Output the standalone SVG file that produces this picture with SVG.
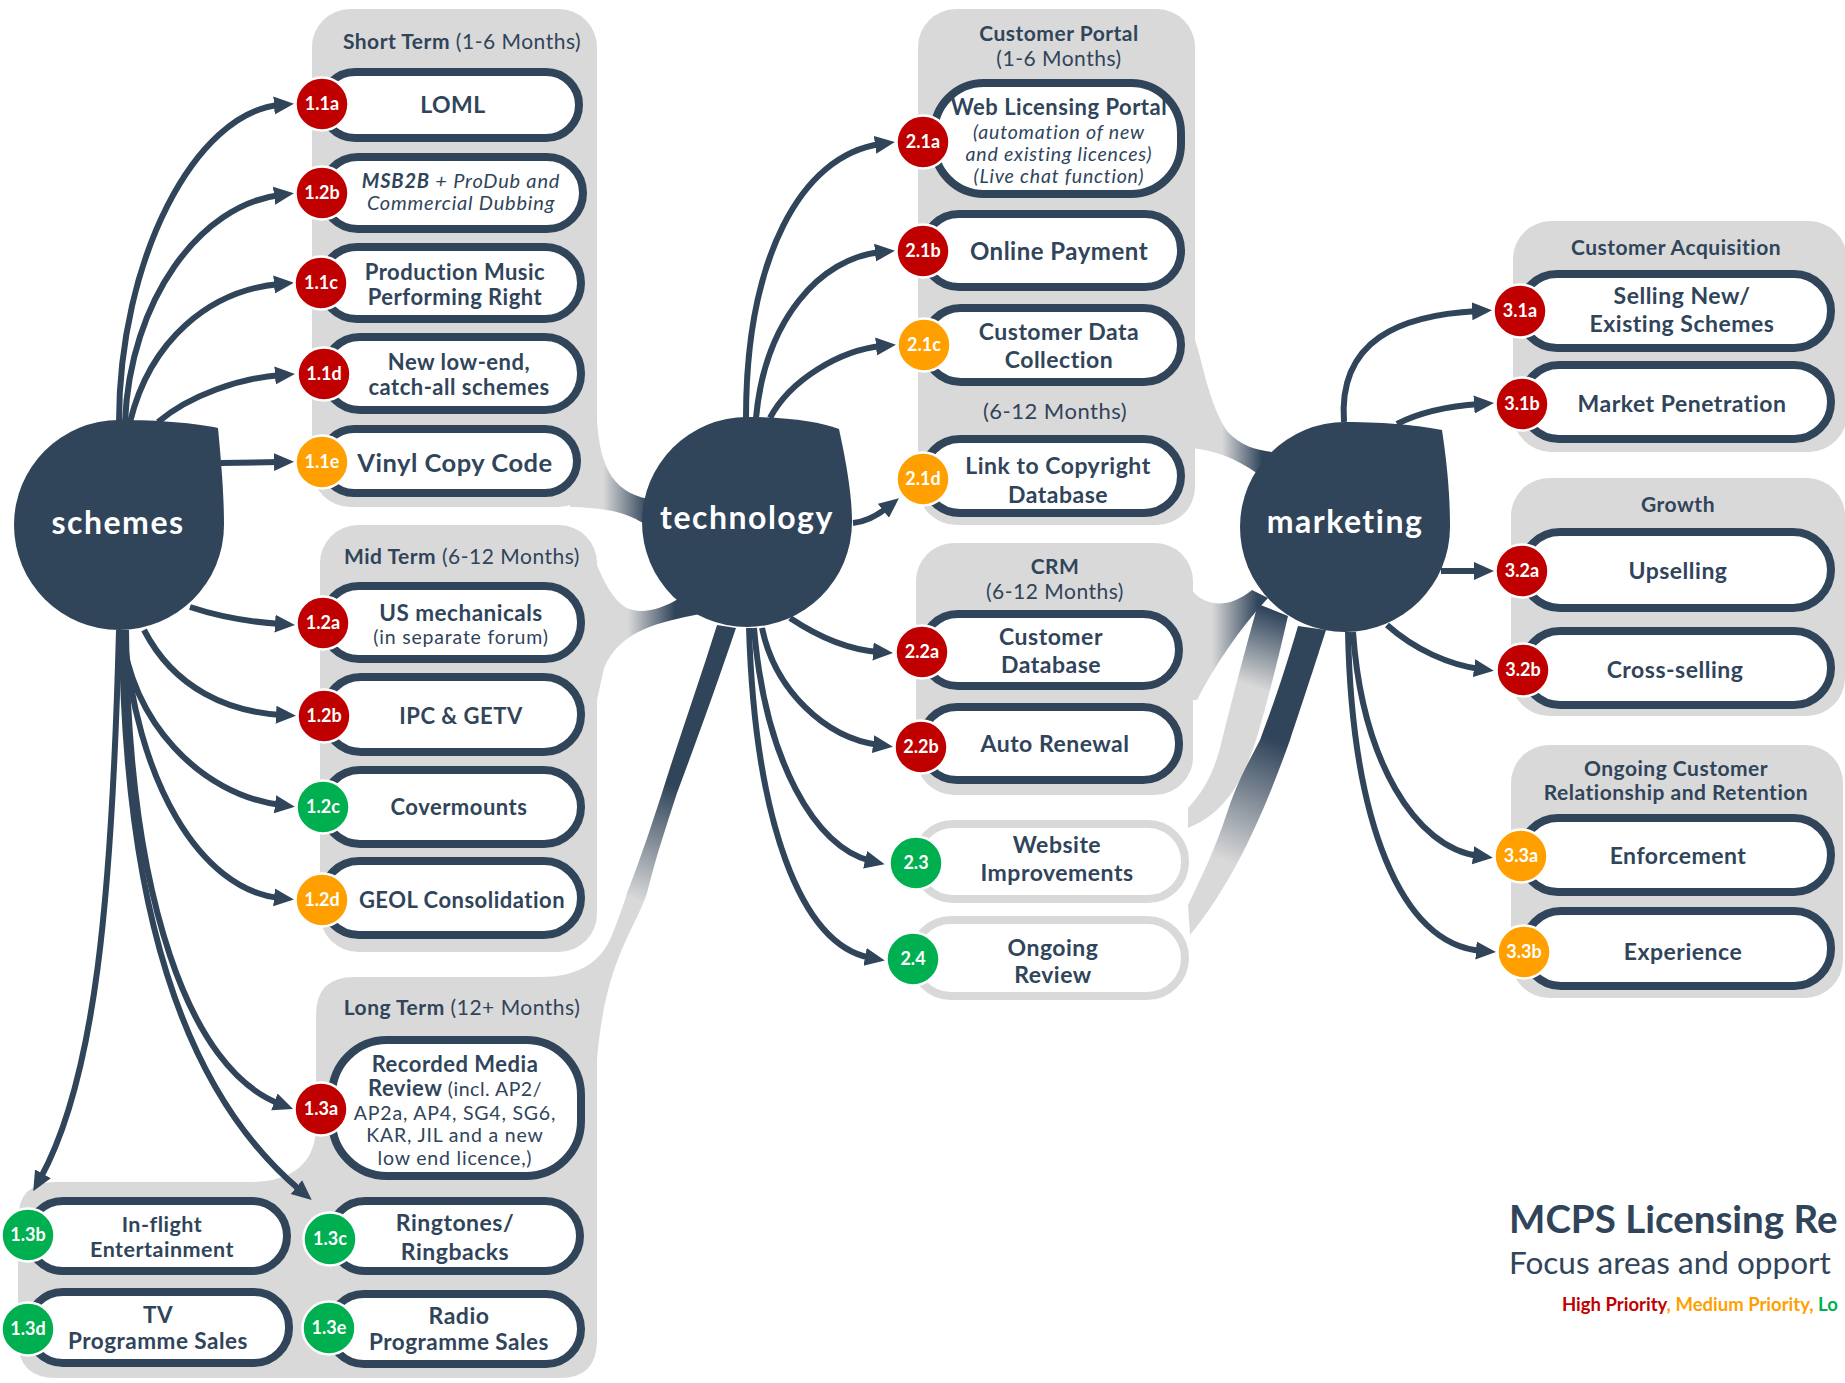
<svg xmlns="http://www.w3.org/2000/svg" width="1845" height="1383" viewBox="0 0 1845 1383">
  <style>
    text { font-family: Lato, "Liberation Sans", sans-serif; }
    .pnl { fill: #d9d9d9; }
    .hubs { fill: #30445a; }
    .hub { fill: #fff; font-size: 32px; font-weight: 700; text-anchor: middle; letter-spacing: 1.5px; }
    .box { fill: #fff; stroke: #30445a; stroke-width: 8; }
    .boxg { fill: #fff; stroke: #d9d9d9; stroke-width: 8; }
    .bdg { stroke: #fff; stroke-width: 2.5; }
    .red { fill: #c00000; }
    .org { fill: #ff9f00; }
    .grn { fill: #00b050; }
    .bn { fill: #fff; font-size: 18px; font-weight: 700; text-anchor: middle; }
    .lbl { fill: #30445a; font-size: 23px; font-weight: 700; text-anchor: middle; letter-spacing: 0.5px; }
    .d { fill: #30445a; font-size: 19.5px; font-weight: 400; text-anchor: middle; letter-spacing: 0.8px; }
    .it { font-style: italic; }
    .ttl { fill: #30445a; font-size: 21px; font-weight: 700; text-anchor: middle; letter-spacing: 0.5px; }
    .reg { font-weight: 400; }
    .conn path { fill: none; stroke: #30445a; stroke-width: 6; marker-end: url(#ah); }
  </style>
  <defs>
    <marker id="ah" viewBox="0 0 20 20" refX="6" refY="10" markerWidth="20" markerHeight="20" markerUnits="userSpaceOnUse" orient="auto">
      <path d="M0,1 L20,10 L0,19 Z" fill="#30445a"/>
    </marker>
    <linearGradient id="gS" gradientUnits="userSpaceOnUse" x1="603" y1="0" x2="648" y2="0">
      <stop offset="0" stop-color="#d9d9d9"/><stop offset="1" stop-color="#30445a"/>
    </linearGradient>
    <linearGradient id="gM" gradientUnits="userSpaceOnUse" x1="628" y1="0" x2="675" y2="0">
      <stop offset="0" stop-color="#d9d9d9"/><stop offset="1" stop-color="#30445a"/>
    </linearGradient>
    <linearGradient id="gL" gradientUnits="userSpaceOnUse" x1="727" y1="630" x2="620" y2="910">
      <stop offset="0" stop-color="#30445a"/><stop offset="0.55" stop-color="#30445a"/><stop offset="0.95" stop-color="#d9d9d9"/>
    </linearGradient>
    <linearGradient id="gP" gradientUnits="userSpaceOnUse" x1="1222" y1="0" x2="1262" y2="0">
      <stop offset="0" stop-color="#d9d9d9"/><stop offset="1" stop-color="#30445a"/>
    </linearGradient>
    <linearGradient id="gC" gradientUnits="userSpaceOnUse" x1="1212" y1="0" x2="1258" y2="0">
      <stop offset="0" stop-color="#d9d9d9"/><stop offset="1" stop-color="#30445a"/>
    </linearGradient>
    <linearGradient id="gW" gradientUnits="userSpaceOnUse" x1="1275" y1="612" x2="1225" y2="760">
      <stop offset="0" stop-color="#30445a"/><stop offset="0.5" stop-color="#d9d9d9"/>
    </linearGradient>
    <linearGradient id="gO" gradientUnits="userSpaceOnUse" x1="1312" y1="630" x2="1205" y2="900">
      <stop offset="0" stop-color="#30445a"/><stop offset="0.4" stop-color="#30445a"/><stop offset="0.85" stop-color="#d9d9d9"/>
    </linearGradient>
  </defs>

  <!-- grouping panels and the tapered branches that join them to the next hub -->
  <g id="panels">
    <rect class="pnl" x="312" y="9" width="285" height="498" rx="38"/>
    <path fill="url(#gS)" d="M597,420 C600,470 615,495 655,500 L655,532 C635,515 615,508 570,507 L570,420 Z"/>
    <rect class="pnl" x="320" y="525" width="277" height="427" rx="38"/>
    <path fill="url(#gM)" d="M580,545 C597,548 600,590 625,607 C640,615 660,610 680,598 L700,614 C660,622 620,630 604,668 L597,700 L580,700 Z"/>
    <path class="pnl" d="M354,977 L560,977 Q597,977 597,1014 L597,1340 Q597,1378 560,1378 L56,1378 Q18,1378 18,1340 L18,1220 Q18,1182 56,1182 L250,1182 C290,1182 314,1165 316,1130 L316,1015 Q316,977 354,977 Z"/>
    <path fill="url(#gL)" d="M717,625 L736,628 C715,690 695,745 677,793 C665,830 655,860 647,893 C635,930 605,960 597,1060 L560,1060 L540,977 C575,977 600,965 612,935 C620,915 625,900 627,893 C640,860 650,830 662,793 C680,735 700,680 717,625 Z"/>

    <rect class="pnl" x="918" y="9" width="277" height="516" rx="38"/>
    <path fill="url(#gP)" d="M1190,330 C1200,340 1205,400 1228,432 C1240,445 1255,450 1272,452 L1258,474 C1235,458 1215,450 1190,448 Z"/>
    <rect class="pnl" x="916" y="543" width="277" height="252" rx="38"/>
    <path fill="url(#gC)" d="M1185,580 C1198,606 1225,612 1252,590 L1268,598 C1240,628 1215,665 1197,700 L1185,700 Z"/>
    <path fill="url(#gW)" d="M1258,604 L1288,616 C1278,660 1268,700 1256,740 C1240,790 1220,815 1188,828 L1188,808 C1205,790 1215,770 1222,740 C1232,700 1245,650 1258,604 Z"/>
    <path fill="url(#gO)" d="M1298,626 L1326,630 C1310,680 1300,710 1290,740 C1265,810 1235,880 1190,935 L1188,905 C1200,880 1215,850 1228,810 C1240,775 1250,760 1260,740 C1275,700 1285,670 1298,626 Z"/>

    <rect class="pnl" x="1513" y="221" width="334" height="231" rx="38"/>
    <rect class="pnl" x="1511" y="478" width="334" height="238" rx="38"/>
    <rect class="pnl" x="1511" y="745" width="332" height="253" rx="38"/>
  </g>

  <!-- panel headings -->
  <g id="headings">
    <text class="ttl" x="462" y="49">Short Term<tspan class="reg"> (1-6 Months)</tspan></text>
    <text class="ttl" x="462" y="564">Mid Term<tspan class="reg"> (6-12 Months)</tspan></text>
    <text class="ttl" x="462" y="1015">Long Term<tspan class="reg"> (12+ Months)</tspan></text>
    <text class="ttl" x="1059" y="41">Customer Portal</text>
    <text class="ttl reg" x="1059" y="66">(1-6 Months)</text>
    <text class="ttl reg" x="1055" y="419" style="font-size:22px">(6-12 Months)</text>
    <text class="ttl" x="1055" y="574">CRM</text>
    <text class="ttl reg" x="1055" y="599">(6-12 Months)</text>
    <text class="ttl" x="1676" y="255">Customer Acquisition</text>
    <text class="ttl" x="1678" y="512">Growth</text>
    <text class="ttl" x="1676" y="776">Ongoing Customer</text>
    <text class="ttl" x="1676" y="800">Relationship and Retention</text>
  </g>

  <!-- arrows from each hub to its items -->
  <g id="connectors" class="conn">
    <path d="M119,422 C119,260 195,112 280,105"/>
    <path d="M125,422 C130,300 200,205 280,195"/>
    <path d="M130,422 C150,340 210,290 280,284"/>
    <path d="M158,422 C190,395 240,378 281,375"/>
    <path d="M221,463 L280,462"/>
    <path d="M190,607 C220,617 250,622 281,624"/>
    <path d="M144,630 C175,690 230,712 282,715"/>
    <path d="M122,630 C130,720 200,795 281,805"/>
    <path d="M124,630 C135,780 200,890 280,898"/>
    <path d="M126,630 C128,900 190,1070 280,1104"/>
    <path d="M122,630 C124,900 180,1090 301,1191"/>
    <path d="M119,630 C112,900 95,1080 40,1179"/>

    <path d="M746,418 C746,260 800,155 881,144"/>
    <path d="M756,418 C765,320 820,258 881,252"/>
    <path d="M770,418 C790,380 840,350 882,346"/>
    <path d="M853,523 C866,522 878,515 888,507"/>
    <path d="M790,618 C820,638 850,650 879,652"/>
    <path d="M762,628 C775,690 825,738 879,745"/>
    <path d="M754,628 C765,760 815,848 871,861"/>
    <path d="M749,628 C755,820 800,945 871,958"/>

    <path d="M1344,422 C1338,340 1400,315 1478,311"/>
    <path d="M1397,424 C1420,412 1450,406 1480,404"/>
    <path d="M1441,571 L1480,571"/>
    <path d="M1387,625 C1415,650 1450,665 1480,669"/>
    <path d="M1353,632 C1362,760 1415,848 1479,856"/>
    <path d="M1348,632 C1352,820 1400,945 1482,951"/>
  </g>

  <!-- hubs -->
  <g id="hub-schemes">
    <path class="hubs" d="M119,420 C160,420 195,423 218,428 C222,470 224,500 224,525 A105,105 0 1 1 119,420 Z"/>
    <text class="hub" x="118" y="534">schemes</text>
  </g>
  <g id="hub-technology">
    <path class="hubs" d="M747,417 C790,417 820,422 839,429 C848,470 852,500 852,522 A105,105 0 1 1 747,417 Z"/>
    <text class="hub" x="747" y="529">technology</text>
  </g>
  <g id="hub-marketing">
    <path class="hubs" d="M1345,422 C1390,422 1420,426 1442,430 C1448,470 1450,500 1450,527 A105,105 0 1 1 1345,422 Z"/>
    <text class="hub" x="1345" y="533">marketing</text>
  </g>

  <!-- schemes: short term -->
  <g id="n-1-1a">
    <rect class="box" x="322" y="72" width="257" height="66" rx="33"/>
    <circle class="bdg red" cx="322" cy="104" r="26.5"/><text class="bn" x="322" y="110">1.1a</text>
    <text class="lbl" x="453" y="113">LOML</text>
  </g>
  <g id="n-1-2b-short">
    <rect class="box" x="322" y="157" width="261" height="72" rx="36"/>
    <circle class="bdg red" cx="322" cy="193" r="26.5"/><text class="bn" x="322" y="199">1.2b</text>
    <text class="d it" x="461" y="188" style="font-size:20px"><tspan font-weight="700">MSB2B</tspan> + ProDub and</text>
    <text class="d it" x="461" y="210" style="font-size:20px">Commercial Dubbing</text>
  </g>
  <g id="n-1-1c">
    <rect class="box" x="321" y="247" width="260" height="72" rx="36"/>
    <circle class="bdg red" cx="321" cy="283" r="26.5"/><text class="bn" x="321" y="289">1.1c</text>
    <text class="lbl" x="455" y="280" style="font-size:22px">Production Music</text>
    <text class="lbl" x="455" y="305" style="font-size:22px">Performing Right</text>
  </g>
  <g id="n-1-1d">
    <rect class="box" x="324" y="337" width="257" height="73" rx="36"/>
    <circle class="bdg red" cx="324" cy="374" r="26.5"/><text class="bn" x="324" y="380">1.1d</text>
    <text class="lbl" x="459" y="370" style="font-size:22px">New low-end,</text>
    <text class="lbl" x="459" y="395" style="font-size:22px">catch-all schemes</text>
  </g>
  <g id="n-1-1e">
    <rect class="box" x="322" y="429" width="255" height="64" rx="32"/>
    <circle class="bdg org" cx="322" cy="462" r="26.5"/><text class="bn" x="322" y="468">1.1e</text>
    <text class="lbl" x="455" y="472" style="font-size:25.5px">Vinyl Copy Code</text>
  </g>

  <!-- schemes: mid term -->
  <g id="n-1-2a">
    <rect class="box" x="323" y="586" width="258" height="73" rx="36"/>
    <circle class="bdg red" cx="323" cy="623" r="26.5"/><text class="bn" x="323" y="629">1.2a</text>
    <text class="lbl" x="461" y="621" style="font-size:22.5px">US mechanicals</text>
    <text class="d" x="461" y="644">(in separate forum)</text>
  </g>
  <g id="n-1-2b">
    <rect class="box" x="324" y="677" width="257" height="75" rx="37"/>
    <circle class="bdg red" cx="324" cy="716" r="26.5"/><text class="bn" x="324" y="722">1.2b</text>
    <text class="lbl" x="461" y="724" style="font-size:22px">IPC &amp; GETV</text>
  </g>
  <g id="n-1-2c">
    <rect class="box" x="323" y="770" width="258" height="74" rx="37"/>
    <circle class="bdg grn" cx="323" cy="807" r="26.5"/><text class="bn" x="323" y="813">1.2c</text>
    <text class="lbl" x="459" y="815" style="font-size:22px">Covermounts</text>
  </g>
  <g id="n-1-2d">
    <rect class="box" x="322" y="861" width="259" height="74" rx="37"/>
    <circle class="bdg org" cx="322" cy="900" r="26.5"/><text class="bn" x="322" y="906">1.2d</text>
    <text class="lbl" x="462" y="908" style="font-size:22px">GEOL Consolidation</text>
  </g>

  <!-- schemes: long term -->
  <g id="n-1-3a">
    <rect class="box" x="332" y="1040" width="249" height="136" rx="55"/>
    <circle class="bdg red" cx="321" cy="1109" r="26.5"/><text class="bn" x="321" y="1115">1.3a</text>
    <text class="lbl" x="455" y="1072" style="font-size:22px">Recorded Media</text>
    <text class="lbl" x="455" y="1096" style="font-size:22px">Review<tspan class="reg" font-size="19.5"> (incl. AP2/</tspan></text>
    <text class="d" x="455" y="1120">AP2a, AP4, SG4, SG6,</text>
    <text class="d" x="455" y="1142">KAR, JIL and a new</text>
    <text class="d" x="455" y="1165">low end licence,)</text>
  </g>
  <g id="n-1-3b">
    <rect class="box" x="28" y="1201" width="259" height="70" rx="35"/>
    <circle class="bdg grn" cx="28" cy="1235" r="26.5"/><text class="bn" x="28" y="1241">1.3b</text>
    <text class="lbl" x="162" y="1232" style="font-size:21.5px">In-flight</text>
    <text class="lbl" x="162" y="1257" style="font-size:21.5px">Entertainment</text>
  </g>
  <g id="n-1-3c">
    <rect class="box" x="330" y="1201" width="250" height="70" rx="35"/>
    <circle class="bdg grn" cx="330" cy="1239" r="26.5"/><text class="bn" x="330" y="1245">1.3c</text>
    <text class="lbl" x="455" y="1231">Ringtones/</text>
    <text class="lbl" x="455" y="1260">Ringbacks</text>
  </g>
  <g id="n-1-3d">
    <rect class="box" x="28" y="1292" width="261" height="71" rx="35"/>
    <circle class="bdg grn" cx="28" cy="1329" r="26.5"/><text class="bn" x="28" y="1335">1.3d</text>
    <text class="lbl" x="158" y="1323" style="font-size:22.5px">TV</text>
    <text class="lbl" x="158" y="1349" style="font-size:22.5px">Programme Sales</text>
  </g>
  <g id="n-1-3e">
    <rect class="box" x="329" y="1294" width="252" height="70" rx="35"/>
    <circle class="bdg grn" cx="329" cy="1328" r="26.5"/><text class="bn" x="329" y="1334">1.3e</text>
    <text class="lbl" x="459" y="1324">Radio</text>
    <text class="lbl" x="459" y="1350" style="font-size:22.5px">Programme Sales</text>
  </g>

  <!-- technology: customer portal -->
  <g id="n-2-1a">
    <rect class="box" x="934" y="83" width="247" height="111" rx="50"/>
    <circle class="bdg red" cx="923" cy="142" r="26.5"/><text class="bn" x="923" y="148">2.1a</text>
    <text class="lbl" x="1059" y="115" style="font-size:22px">Web Licensing Portal</text>
    <text class="d it" x="1059" y="139">(automation of new</text>
    <text class="d it" x="1059" y="161">and existing licences)</text>
    <text class="d it" x="1059" y="183">(Live chat function)</text>
  </g>
  <g id="n-2-1b">
    <rect class="box" x="923" y="214" width="258" height="73" rx="36"/>
    <circle class="bdg red" cx="923" cy="251" r="26.5"/><text class="bn" x="923" y="257">2.1b</text>
    <text class="lbl" x="1059" y="260" style="font-size:24px">Online Payment</text>
  </g>
  <g id="n-2-1c">
    <rect class="box" x="924" y="308" width="257" height="74" rx="37"/>
    <circle class="bdg org" cx="924" cy="345" r="26.5"/><text class="bn" x="924" y="351">2.1c</text>
    <text class="lbl" x="1059" y="340">Customer Data</text>
    <text class="lbl" x="1059" y="368">Collection</text>
  </g>
  <g id="n-2-1d">
    <rect class="box" x="923" y="439" width="258" height="74" rx="37"/>
    <circle class="bdg org" cx="923" cy="479" r="26.5"/><text class="bn" x="923" y="485">2.1d</text>
    <text class="lbl" x="1058" y="474">Link to Copyright</text>
    <text class="lbl" x="1058" y="503">Database</text>
  </g>

  <!-- technology: CRM and further items -->
  <g id="n-2-2a">
    <rect class="box" x="922" y="614" width="257" height="72" rx="36"/>
    <circle class="bdg red" cx="922" cy="652" r="26.5"/><text class="bn" x="922" y="658">2.2a</text>
    <text class="lbl" x="1051" y="645">Customer</text>
    <text class="lbl" x="1051" y="673">Database</text>
  </g>
  <g id="n-2-2b">
    <rect class="box" x="921" y="707" width="258" height="73" rx="36"/>
    <circle class="bdg red" cx="921" cy="747" r="26.5"/><text class="bn" x="921" y="753">2.2b</text>
    <text class="lbl" x="1055" y="752">Auto Renewal</text>
  </g>
  <g id="n-2-3">
    <rect class="boxg" x="916" y="824" width="269" height="75" rx="37"/>
    <circle class="bdg grn" cx="916" cy="863" r="26.5"/><text class="bn" x="916" y="869">2.3</text>
    <text class="lbl" x="1057" y="853">Website</text>
    <text class="lbl" x="1057" y="881">Improvements</text>
  </g>
  <g id="n-2-4">
    <rect class="boxg" x="913" y="920" width="272" height="76" rx="38"/>
    <circle class="bdg grn" cx="913" cy="959" r="26.5"/><text class="bn" x="913" y="965">2.4</text>
    <text class="lbl" x="1053" y="956">Ongoing</text>
    <text class="lbl" x="1053" y="983">Review</text>
  </g>

  <!-- marketing -->
  <g id="n-3-1a">
    <rect class="box" x="1520" y="274" width="311" height="74" rx="37"/>
    <circle class="bdg red" cx="1520" cy="311" r="26.5"/><text class="bn" x="1520" y="317">3.1a</text>
    <text class="lbl" x="1682" y="304">Selling New/</text>
    <text class="lbl" x="1682" y="332">Existing Schemes</text>
  </g>
  <g id="n-3-1b">
    <rect class="box" x="1522" y="365" width="309" height="74" rx="37"/>
    <circle class="bdg red" cx="1522" cy="404" r="26.5"/><text class="bn" x="1522" y="410">3.1b</text>
    <text class="lbl" x="1682" y="412">Market Penetration</text>
  </g>
  <g id="n-3-2a">
    <rect class="box" x="1522" y="532" width="309" height="76" rx="38"/>
    <circle class="bdg red" cx="1522" cy="571" r="26.5"/><text class="bn" x="1522" y="577">3.2a</text>
    <text class="lbl" x="1678" y="579">Upselling</text>
  </g>
  <g id="n-3-2b">
    <rect class="box" x="1523" y="631" width="308" height="74" rx="37"/>
    <circle class="bdg red" cx="1523" cy="670" r="26.5"/><text class="bn" x="1523" y="676">3.2b</text>
    <text class="lbl" x="1675" y="678">Cross-selling</text>
  </g>
  <g id="n-3-3a">
    <rect class="box" x="1521" y="818" width="310" height="74" rx="37"/>
    <circle class="bdg org" cx="1521" cy="856" r="26.5"/><text class="bn" x="1521" y="862">3.3a</text>
    <text class="lbl" x="1678" y="864">Enforcement</text>
  </g>
  <g id="n-3-3b">
    <rect class="box" x="1524" y="911" width="307" height="75" rx="37"/>
    <circle class="bdg org" cx="1524" cy="952" r="26.5"/><text class="bn" x="1524" y="958">3.3b</text>
    <text class="lbl" x="1683" y="960">Experience</text>
  </g>

  <!-- title block -->
  <g id="title">
    <text x="1509" y="1233" style="font-size:38.5px;font-weight:700;fill:#30445a">MCPS Licensing Re</text>
    <text x="1509" y="1274" style="font-size:31.5px;font-weight:400;fill:#30445a">Focus areas and opport</text>
    <text x="1562" y="1311" style="font-size:18.5px;font-weight:700"><tspan fill="#c00000">High Priority</tspan><tspan fill="#ff9f00">, Medium Priority,</tspan><tspan fill="#00b050"> Lo</tspan></text>
  </g>
</svg>
